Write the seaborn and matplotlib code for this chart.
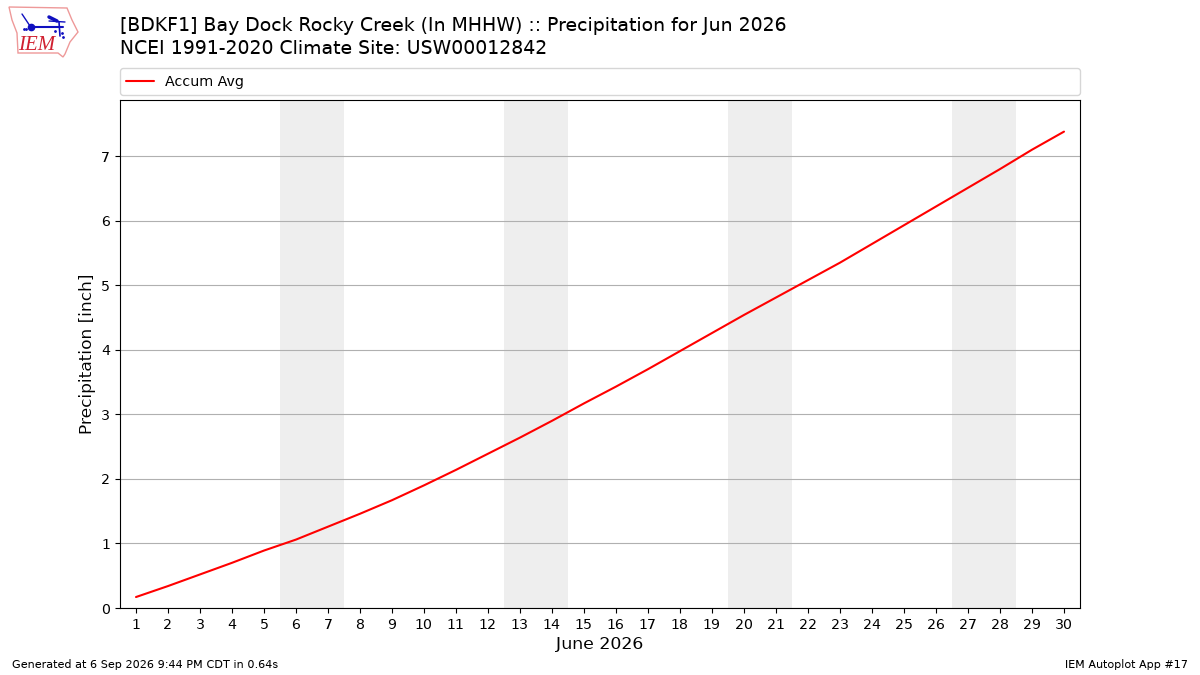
import matplotlib
matplotlib.use("Agg")
import matplotlib.pyplot as plt
import seaborn as sns
import pandas as pd
from matplotlib.patches import Polygon

days = list(range(1, 31))
accum_avg = [0.17, 0.34, 0.52, 0.70, 0.89, 1.06, 1.26, 1.46, 1.67, 1.90,
             2.14, 2.39, 2.64, 2.90, 3.17, 3.43, 3.70, 3.98, 4.26, 4.54,
             4.81, 5.08, 5.35, 5.64, 5.93, 6.22, 6.51, 6.80, 7.10, 7.38]
weekends = [(6, 7), (13, 14), (20, 21), (27, 28)]
title = "[BDKF1] Bay Dock Rocky Creek (In MHHW) :: Precipitation for Jun 2026\nNCEI 1991-2020 Climate Site: USW00012842"
footer_left = "Generated at 6 Sep 2026 9:44 PM CDT in 0.64s"
footer_right = "IEM Autoplot App #17"

sns.set_theme(style="white", rc={"font.family": "DejaVu Sans"})
plt.rcParams["font.family"] = ["DejaVu Sans"]
plt.rcParams["text.hinting"] = "default"
plt.rcParams["text.hinting_factor"] = 8

fig = plt.figure(figsize=(12, 6.75), dpi=100)
ax = fig.add_axes([120/1200, 1-608/675, 960/1200, 508/675])

for a, b in weekends:
    ax.axvspan(a-0.5, b+0.5, color="#eeeeee", lw=0, zorder=0)

df = pd.DataFrame({"day": days, "precip": accum_avg})
sns.lineplot(data=df, x="day", y="precip", color="red", lw=1.5, ax=ax,
             label="Accum Avg", errorbar=None, zorder=3)

ax.set_xlim(0.5, 30.5)
ax.set_ylim(0, 7.87)
ax.set_xticks(days)
ax.set_yticks(range(0, 8))
ax.tick_params(axis="both", which="major", labelsize=10.2, length=3.5, width=0.8,
               color="black", labelcolor="black", bottom=True, left=True, pad=3.5)
ax.yaxis.grid(True, color="#b0b0b0", lw=0.8)
ax.xaxis.grid(False)
ax.set_axisbelow(True)
for s in ax.spines.values():
    s.set_color("black")
    s.set_linewidth(0.8)
ax.set_xlabel("June 2026", fontsize=12.5, color="black", labelpad=3)
ax.set_ylabel("Precipitation [inch]", fontsize=12.25, color="black", labelpad=4)

ax.legend(loc="lower left", bbox_to_anchor=(0, 1.0095, 1, 0.05), mode="expand",
          ncol=1, borderaxespad=0, fontsize=10.3, frameon=True, labelcolor="black",
          handlelength=1.95, handletextpad=0.72, borderpad=0.45)

fig.text(120/1200, 1-58/675, title, fontsize=13.6, color="black", ha="left", va="bottom", linespacing=1.35)
fig.text(12/1200, 1-665/675, footer_left, fontsize=8.15, color="black", ha="left", va="center")
fig.text(1188/1200, 1-665/675, footer_right, fontsize=8.05, color="black", ha="right", va="center")

# logo
logo = fig.add_axes([0, 1-60/675, 80/1200, 60/675])
logo.set_xlim(0, 80); logo.set_ylim(60, 0); logo.axis("off")
logo.add_patch(Polygon([(9, 7), (67, 8), (72, 20), (78, 32), (70, 42), (65, 54), (63, 57),
                        (58, 53), (18, 53), (17, 33), (12, 20)],
                       closed=True, fc="none", ec="#ee9999", lw=1))
logo.plot([31, 63], [27, 27], color="#1010c0", lw=1.5)
logo.plot([31], [27], "o", color="#1010c0", ms=4.5)
logo.plot([22, 30], [14, 26], color="#1010c0", lw=1)
logo.plot([49, 65], [21, 22], color="#1010c0", lw=1)
logo.plot([49, 57], [17, 21], color="#1010c0", lw=2.5)
logo.plot([59, 60], [22, 36], color="#1010c0", lw=1.2)
logo.plot([24, 26, 55, 62, 63], [29, 29, 31, 33, 37], ".", color="#1010c0", ms=2)
logo.text(37, 45, "IEM", color="#d02030", fontsize=15, family="Liberation Serif",
          style="italic", ha="center", va="center")

fig.savefig("out.png", dpi=100, facecolor="white")
